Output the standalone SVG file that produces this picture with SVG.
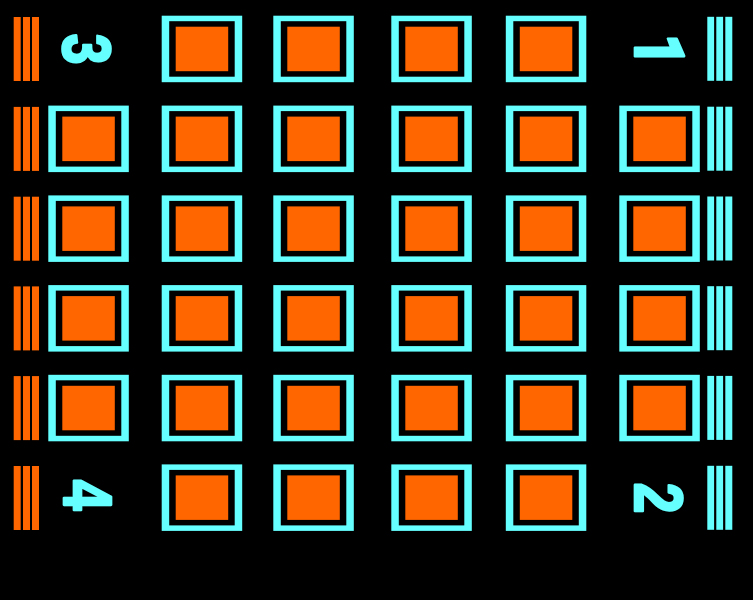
<svg xmlns="http://www.w3.org/2000/svg" xmlns:xlink="http://www.w3.org/1999/xlink" width="753" height="600" viewBox="0 0 753 600">
<style>
.cy{fill:#66FFFF}
.or{fill:#FF6600}
.bk{fill:#000000}
.lbl{font-family:"Liberation Sans",Arial,sans-serif;font-weight:bold;font-size:69px;fill:#66FFFF;stroke:#66FFFF;stroke-width:2.6;stroke-linejoin:round;text-anchor:middle}
.one{font-family:Roboto,"Liberation Sans",sans-serif;font-weight:900}
</style>
<defs>
<g id="pad">
<rect class="cy" width="80.5" height="66.5"/>
<rect class="bk" x="7.5" y="5.5" width="65.5" height="55.5"/>
<rect class="or" x="14" y="11" width="52.5" height="44.5"/>
</g>
<g id="barsL">
<rect class="or" x="13.7" y="0" width="7" height="64"/>
<rect class="or" x="23" y="0" width="7" height="64"/>
<rect class="or" x="32" y="0" width="7" height="64"/>
</g>
<g id="barsR">
<rect class="cy" x="707.3" y="0" width="6.8" height="64"/>
<rect class="cy" x="716.3" y="0" width="6.8" height="64"/>
<rect class="cy" x="725.3" y="0" width="7" height="64"/>
</g>
</defs>
<rect width="753" height="600" fill="#000"/>
<g id="bars-left">
<use xlink:href="#barsL" y="17"/>
<use xlink:href="#barsL" y="106.9"/>
<use xlink:href="#barsL" y="196.7"/>
<use xlink:href="#barsL" y="286.4"/>
<use xlink:href="#barsL" y="376.1"/>
<use xlink:href="#barsL" y="466"/>
</g>
<g id="bars-right">
<use xlink:href="#barsR" y="16.8"/>
<use xlink:href="#barsR" y="106.7"/>
<use xlink:href="#barsR" y="196.5"/>
<use xlink:href="#barsR" y="286.2"/>
<use xlink:href="#barsR" y="375.9"/>
<use xlink:href="#barsR" y="465.8"/>
</g>
<g id="row1">
<g id="pad-r1c2"><use xlink:href="#pad" x="161.7" y="15.7"/></g>
<g id="pad-r1c3"><use xlink:href="#pad" x="273.3" y="15.7"/></g>
<g id="pad-r1c4"><use xlink:href="#pad" x="391.3" y="15.7"/></g>
<g id="pad-r1c5"><use xlink:href="#pad" x="505.8" y="15.7"/></g>
</g>
<g id="row2">
<g id="pad-r2c1"><use xlink:href="#pad" x="48.3" y="105.6"/></g>
<g id="pad-r2c2"><use xlink:href="#pad" x="161.7" y="105.6"/></g>
<g id="pad-r2c3"><use xlink:href="#pad" x="273.3" y="105.6"/></g>
<g id="pad-r2c4"><use xlink:href="#pad" x="391.3" y="105.6"/></g>
<g id="pad-r2c5"><use xlink:href="#pad" x="505.8" y="105.6"/></g>
<g id="pad-r2c6"><use xlink:href="#pad" x="619.3" y="105.6"/></g>
</g>
<g id="row3">
<g id="pad-r3c1"><use xlink:href="#pad" x="48.3" y="195.4"/></g>
<g id="pad-r3c2"><use xlink:href="#pad" x="161.7" y="195.4"/></g>
<g id="pad-r3c3"><use xlink:href="#pad" x="273.3" y="195.4"/></g>
<g id="pad-r3c4"><use xlink:href="#pad" x="391.3" y="195.4"/></g>
<g id="pad-r3c5"><use xlink:href="#pad" x="505.8" y="195.4"/></g>
<g id="pad-r3c6"><use xlink:href="#pad" x="619.3" y="195.4"/></g>
</g>
<g id="row4">
<g id="pad-r4c1"><use xlink:href="#pad" x="48.3" y="285.1"/></g>
<g id="pad-r4c2"><use xlink:href="#pad" x="161.7" y="285.1"/></g>
<g id="pad-r4c3"><use xlink:href="#pad" x="273.3" y="285.1"/></g>
<g id="pad-r4c4"><use xlink:href="#pad" x="391.3" y="285.1"/></g>
<g id="pad-r4c5"><use xlink:href="#pad" x="505.8" y="285.1"/></g>
<g id="pad-r4c6"><use xlink:href="#pad" x="619.3" y="285.1"/></g>
</g>
<g id="row5">
<g id="pad-r5c1"><use xlink:href="#pad" x="48.3" y="374.8"/></g>
<g id="pad-r5c2"><use xlink:href="#pad" x="161.7" y="374.8"/></g>
<g id="pad-r5c3"><use xlink:href="#pad" x="273.3" y="374.8"/></g>
<g id="pad-r5c4"><use xlink:href="#pad" x="391.3" y="374.8"/></g>
<g id="pad-r5c5"><use xlink:href="#pad" x="505.8" y="374.8"/></g>
<g id="pad-r5c6"><use xlink:href="#pad" x="619.3" y="374.8"/></g>
</g>
<g id="row6">
<g id="pad-r6c2"><use xlink:href="#pad" x="161.7" y="464.4"/></g>
<g id="pad-r6c3"><use xlink:href="#pad" x="273.3" y="464.4"/></g>
<g id="pad-r6c4"><use xlink:href="#pad" x="391.3" y="464.4"/></g>
<g id="pad-r6c5"><use xlink:href="#pad" x="505.8" y="464.4"/></g>
</g>
<g id="labels">
<text id="label-3" class="lbl" transform="translate(62.5,49) rotate(90) scale(0.8,1)">3</text>
<text id="label-1" class="lbl one" transform="translate(635,50) rotate(90) scale(0.8,1)">1</text>
<text id="label-4" class="lbl" transform="translate(63.5,495) rotate(90) scale(0.8,1)">4</text>
<text id="label-2" class="lbl" transform="translate(635,498) rotate(90) scale(0.8,1)">2</text>
</g>
</svg>
